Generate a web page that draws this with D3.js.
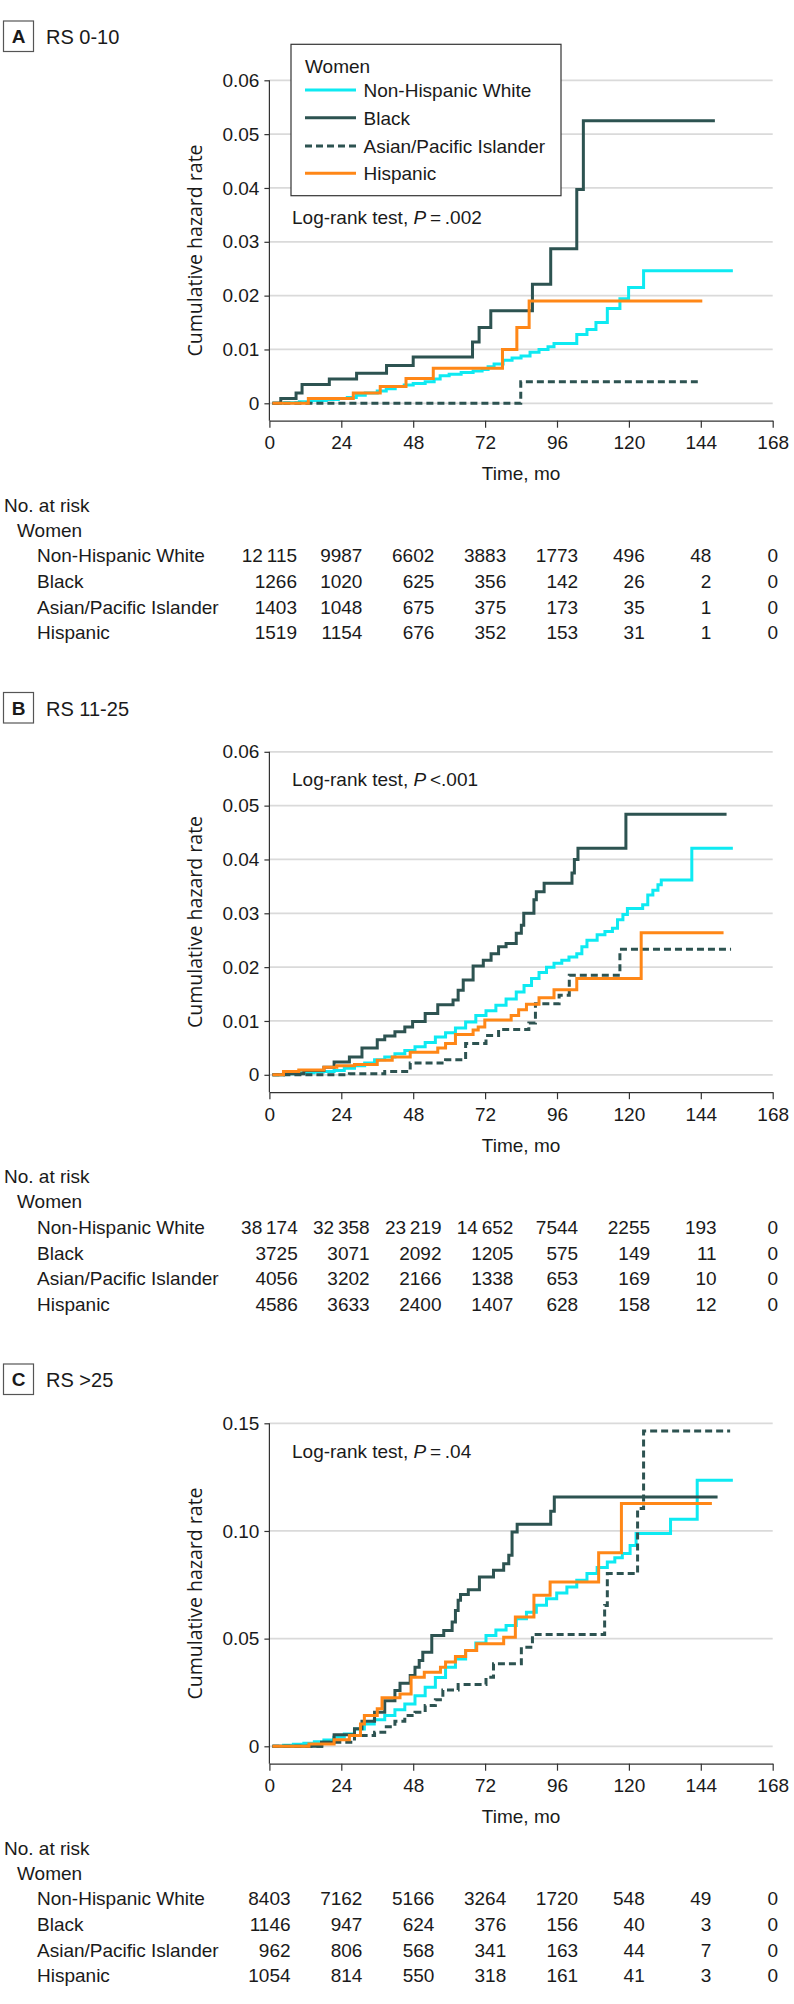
<!DOCTYPE html>
<html><head><meta charset="utf-8">
<script src="https://cdn.jsdelivr.net/npm/d3@7"></script>
<style>
body{margin:0;background:#fff}
svg{display:block}
text{font-family:"Liberation Sans",Arial,sans-serif;fill:#1a1a1a}
</style></head><body>
<svg id="c" width="794" height="2004"></svg>
<script>
// ---------- DATA ----------
const months=[0,24,48,72,96,120,144,168];
const groups=["Non-Hispanic White","Black","Asian/Pacific Islander","Hispanic"];
const panelLetters=["A","B","C"];
const panelTitles=["RS 0-10","RS 11-25","RS >25"];
const pTexts=["\u2009=\u2009.002","\u2009<.001","\u2009=\u2009.04"];
const yTicksA=[0,0.01,0.02,0.03,0.04,0.05,0.06];
const yLabelsA=["0","0.01","0.02","0.03","0.04","0.05","0.06"];
const yTicksB=[0,0.01,0.02,0.03,0.04,0.05,0.06];
const yLabelsB=["0","0.01","0.02","0.03","0.04","0.05","0.06"];
const yTicksC=[0,0.05,0.10,0.15];
const yLabelsC=["0","0.05","0.10","0.15"];

// step series [month, cumulative hazard]
const aWhite=[[1,0],[5,0.0001],[10,0.0003],[14,0.0005],[19,0.0007],[23,0.0009],[26,0.0011],[29,0.0015],[32,0.0019],[36,0.0023],[39,0.0027],[42,0.0031],[45,0.0034],[48,0.0037],[52,0.0040],[55,0.0045],[57,0.0051],[60,0.0054],[64,0.0057],[68,0.0060],[71,0.0063],[73,0.0068],[75,0.0073],[78,0.0080],[81,0.0084],[84,0.0088],[87,0.0095],[90,0.0100],[93,0.0105],[95,0.0111],[102.6,0.0128],[106,0.0137],[109,0.0150],[112.8,0.0176],[117,0.0194],[119.9,0.0215],[124.9,0.0246],[154.7,0.0246]];
const aBlack=[[1,0],[3.8,0.0009],[8.9,0.0019],[10.9,0.0035],[20,0.0045],[29.1,0.0056],[39.1,0.0070],[48,0.0086],[67.8,0.0114],[70,0.0141],[73.9,0.0172],[87.8,0.0221],[93.9,0.0287],[102.6,0.0397],[104.8,0.0525],[148.7,0.0525]];
const aAsian=[[1,0],[83.9,0.0040],[143,0.0040]];
const aHispanic=[[1,0],[13,0.0009],[28,0.0019],[37,0.0031],[45.6,0.0046],[54.7,0.0065],[77.8,0.0100],[82.6,0.0141],[86.7,0.0190],[144.5,0.0190]];

const bWhite=[[1,0],[4.7,0.0002],[10,0.0004],[14.9,0.0005],[18,0.0006],[21.6,0.0008],[25,0.0012],[28.4,0.0017],[31.8,0.0022],[35.1,0.0028],[38.5,0.0033],[41.9,0.0039],[45.2,0.0045],[48.6,0.0052],[52,0.0060],[55.4,0.0070],[58.8,0.0078],[62.1,0.0087],[65.5,0.0098],[68.9,0.0110],[72.3,0.0119],[75.6,0.0129],[79,0.0141],[82.4,0.0154],[85,0.0166],[87.5,0.0179],[90,0.0190],[92.5,0.0200],[95,0.0207],[97.6,0.0213],[100,0.0219],[102.6,0.0225],[104.3,0.0238],[106,0.0250],[109.4,0.0260],[112,0.0266],[114.5,0.0272],[116.2,0.0288],[118,0.0298],[119.5,0.0309],[124.6,0.0316],[126.3,0.0334],[128,0.0343],[129.7,0.0353],[130.8,0.0362],[141,0.0421],[154.7,0.0421]];
const bBlack=[[1,0],[4.7,0.0002],[11.5,0.0008],[18.2,0.0014],[21.6,0.0024],[26.7,0.0033],[30.9,0.0050],[36,0.0065],[38.5,0.0072],[41.9,0.0080],[45.2,0.0089],[47.8,0.0099],[52,0.0114],[56.2,0.0130],[61.3,0.0139],[63,0.0157],[64.7,0.0176],[68,0.0202],[71.4,0.0213],[74,0.0225],[76.5,0.0238],[79,0.0244],[82.4,0.0263],[84.1,0.0278],[84.9,0.0300],[88.3,0.0325],[89.1,0.0340],[91.7,0.0356],[101,0.0375],[101.8,0.0400],[103,0.0421],[119,0.0484],[152.6,0.0484]];
const bAsian=[[1,0],[26.7,0.0002],[38.5,0.0006],[47,0.0022],[58.8,0.0028],[65.5,0.0058],[72.3,0.0073],[76.5,0.0084],[86.6,0.0096],[88.8,0.0132],[96.7,0.0148],[100.1,0.0185],[117,0.0233],[154.1,0.0233]];
const bHispanic=[[1,0],[4.7,0.0006],[9.8,0.0009],[18.2,0.0014],[22.5,0.0017],[28.4,0.0019],[36,0.0027],[41,0.0033],[47,0.0042],[56.2,0.0050],[58.8,0.0058],[62.1,0.0075],[68,0.0083],[69.7,0.0089],[71.9,0.0102],[80.7,0.0110],[83.2,0.0121],[85.8,0.0131],[90,0.0143],[95,0.0158],[102.6,0.0179],[124.1,0.0264],[151.6,0.0264]];

const cWhite=[[1,0],[4.7,0.0005],[8,0.0009],[11.5,0.0014],[15,0.0021],[18.2,0.0029],[21.5,0.0042],[25,0.0057],[28.4,0.0080],[31.7,0.0104],[35,0.0123],[38.5,0.0143],[41.9,0.0170],[45.2,0.0197],[48.6,0.0235],[52,0.0274],[55.4,0.0320],[58.8,0.0367],[62.1,0.0405],[65.5,0.0445],[68.9,0.0480],[72.3,0.0515],[75.6,0.0540],[79,0.0561],[82.4,0.0592],[85.8,0.0623],[89.1,0.0655],[92.5,0.0685],[95.9,0.0712],[99.3,0.0740],[102.6,0.0771],[106,0.0802],[109.4,0.0830],[112.8,0.0856],[115.3,0.0876],[117.8,0.0895],[120.4,0.0933],[122.4,0.0988],[133.9,0.1054],[142.8,0.1236],[154.7,0.1236]];
const cBlack=[[1,0],[17.4,0.0019],[21.6,0.0054],[28.4,0.0081],[30.9,0.0116],[35.1,0.0158],[38.5,0.0212],[41.9,0.0259],[43.6,0.0293],[47,0.0329],[48.6,0.0367],[50,0.0398],[51.2,0.0437],[54.2,0.0515],[58.2,0.0538],[61,0.0577],[62.1,0.0631],[63,0.0678],[63.8,0.0705],[66.4,0.0727],[70.1,0.0786],[74.8,0.0817],[78.2,0.0848],[79.9,0.0887],[81,0.0995],[82.7,0.1031],[93.9,0.1091],[95.1,0.1158],[149.6,0.1158]];
const cAsian=[[1,0],[18.2,0.0019],[28.4,0.0050],[35.1,0.0065],[38.5,0.0091],[41.9,0.0116],[45.2,0.0143],[48.6,0.0158],[52,0.0189],[55.4,0.0216],[57.9,0.0262],[63,0.0287],[72.3,0.0321],[74.8,0.0383],[84.1,0.0460],[87.8,0.0519],[111.9,0.0654],[112.8,0.0802],[122.9,0.1104],[124.9,0.1464],[153.8,0.1464]];
const cHispanic=[[1,0],[13.2,0.0011],[21.6,0.0031],[26.7,0.0050],[30.4,0.0104],[31.7,0.0143],[36,0.0174],[37.6,0.0225],[43.6,0.0243],[47.3,0.0321],[51.7,0.0344],[57.1,0.0367],[58.8,0.0391],[62.1,0.0417],[65.5,0.0445],[69.2,0.0476],[78.2,0.0507],[82.1,0.0600],[88.3,0.0701],[93.7,0.0763],[109.9,0.0899],[117.5,0.1127],[147.7,0.1127]];

// numbers at risk (rows follow groups, columns follow months)
const riskA=[[12115,9987,6602,3883,1773,496,48,0],[1266,1020,625,356,142,26,2,0],[1403,1048,675,375,173,35,1,0],[1519,1154,676,352,153,31,1,0]];
const riskB=[[38174,32358,23219,14652,7544,2255,193,0],[3725,3071,2092,1205,575,149,11,0],[4056,3202,2166,1338,653,169,10,0],[4586,3633,2400,1407,628,158,12,0]];
const riskC=[[8403,7162,5166,3264,1720,548,49,0],[1146,947,624,376,156,40,3,0],[962,806,568,341,163,44,7,0],[1054,814,550,318,161,41,3,0]];

// ---------- STYLE ----------
const seriesStyle=[
  {color:"#0eeaf2",dash:null},
  {color:"#2d5351",dash:null},
  {color:"#2d5351",dash:"7,4"},
  {color:"#ff8717",dash:null}
];
const drawOrder=[0,2,1,3];

const panels=[
  {series:[aWhite,aBlack,aAsian,aHispanic],risk:riskA,ymax:0.06,ticks:yTicksA,labels:yLabelsA,legend:true,pY:224.3},
  {series:[bWhite,bBlack,bAsian,bHispanic],risk:riskB,ymax:0.06,ticks:yTicksB,labels:yLabelsB,legend:false,pY:114.7},
  {series:[cWhite,cBlack,cAsian,cHispanic],risk:riskC,ymax:0.15,ticks:yTicksC,labels:yLabelsC,legend:false,pY:114.7}
];

const svg=d3.select("#c");
const X0=269.4,X1=772.7;
const x=d3.scaleLinear().domain([0,168]).range([X0,X1]);
const panelTop=[0,671.5,1343];
const yTopPx=80.3,yZeroPx=403.3,xAxisPx=420.7;
const FS=19;
const fmt=n=>n>=10000?d3.format(",")(n).replace(/,/g,"\u2009"):String(n);

panels.forEach((cfg,i)=>{
  const g=svg.append("g").attr("transform",`translate(0,${panelTop[i]})`);
  g.append("rect").attr("x",3.5).attr("y",21).attr("width",30).attr("height",30.5)
    .attr("fill","none").attr("stroke","#555").attr("stroke-width",1.2);
  g.append("text").attr("x",18.5).attr("y",43).attr("text-anchor","middle")
    .attr("font-weight","bold").attr("font-size",19).text(panelLetters[i]);
  g.append("text").attr("x",46).attr("y",44.3).attr("font-size",20).text(panelTitles[i]);

  const y=d3.scaleLinear().domain([0,cfg.ymax]).range([yZeroPx,yTopPx]);

  // grid
  g.append("g").selectAll("line").data(cfg.ticks).join("line")
    .attr("x1",X0).attr("x2",X1).attr("y1",d=>y(d)).attr("y2",d=>y(d))
    .attr("stroke","#dadada").attr("stroke-width",1.8);

  // y axis
  const yg=g.append("g").attr("transform",`translate(${X0},0)`)
    .call(d3.axisLeft(y).tickValues(cfg.ticks).tickFormat((d,j)=>cfg.labels[j]).tickSize(5).tickPadding(5));
  yg.attr("font-size",null).attr("font-family",null).attr("color","#333");
  yg.select(".domain").remove();
  yg.selectAll("text").attr("font-size",FS).style("fill","#1a1a1a");
  yg.selectAll(".tick line").attr("stroke-width",1.2);
  yg.append("line").attr("x1",0).attr("x2",0).attr("y1",yTopPx).attr("y2",xAxisPx)
    .attr("stroke","#333").attr("stroke-width",1.2);

  // x axis
  const xg=g.append("g").attr("transform",`translate(0,${xAxisPx})`)
    .call(d3.axisBottom(x).tickValues(months).tickSize(7).tickSizeOuter(0).tickPadding(8));
  xg.attr("font-size",null).attr("font-family",null).attr("color","#333");
  xg.selectAll("text").attr("font-size",FS).style("fill","#1a1a1a");
  xg.select(".domain").attr("stroke-width",1.2);
  xg.selectAll(".tick line").attr("stroke-width",1.2);

  g.append("text").attr("x",(X0+X1)/2).attr("y",480).attr("text-anchor","middle")
    .attr("font-size",FS).text("Time, mo");

  g.append("text").attr("transform",`translate(202,${(yTopPx+xAxisPx)/2}) rotate(-90)`)
    .attr("text-anchor","middle").attr("font-size",19.5)
    .style("font-family","'Open Sans',sans-serif").text("Cumulative hazard rate");

  // curves
  const line=d3.line().x(d=>x(d[0])).y(d=>y(d[1])).curve(d3.curveStepAfter);
  drawOrder.forEach(k=>{
    const st=seriesStyle[k];
    g.append("path").datum(cfg.series[k]).attr("d",line).attr("fill","none")
      .attr("stroke",st.color).attr("stroke-width",3).attr("stroke-dasharray",st.dash);
  });

  // log-rank
  const lt=g.append("text").attr("x",292).attr("y",cfg.pY).attr("font-size",FS);
  lt.append("tspan").text("Log-rank test, ");
  lt.append("tspan").attr("font-style","italic").text("P");
  lt.append("tspan").text(pTexts[i]);

  // legend
  if(cfg.legend){
    const lg=g.append("g");
    lg.append("rect").attr("x",291).attr("y",44.3).attr("width",270).attr("height",151.4)
      .attr("fill","#fff").attr("stroke","#333").attr("stroke-width",1.2);
    lg.append("text").attr("x",305).attr("y",73.3).attr("font-size",FS).text("Women");
    const ly=[90,117.7,146,173.3];
    groups.forEach((name,k)=>{
      const st=seriesStyle[k];
      lg.append("line").attr("x1",305).attr("x2",356).attr("y1",ly[k]).attr("y2",ly[k])
        .attr("stroke",st.color).attr("stroke-width",3).attr("stroke-dasharray",st.dash);
      lg.append("text").attr("x",363.5).attr("y",ly[k]+7).attr("font-size",FS).text(name);
    });
  }

  // risk table
  const rt=g.append("g").attr("font-size",FS);
  rt.append("text").attr("x",4).attr("y",511.7).text("No. at risk");
  rt.append("text").attr("x",17).attr("y",536.7).text("Women");
  const rowY=[562,588,613.5,639];
  groups.forEach((name,r)=>rt.append("text").attr("x",37).attr("y",rowY[r]).text(name));
  months.forEach((m,c)=>{
    const texts=cfg.risk.map((row,r)=>rt.append("text").attr("y",rowY[r]).attr("text-anchor","end").text(fmt(row[c])));
    const maxW=d3.max(texts,t=>t.node().getComputedTextLength());
    texts.forEach(t=>t.attr("x",x(m)+maxW/2));
  });
});
</script>
</body></html>
